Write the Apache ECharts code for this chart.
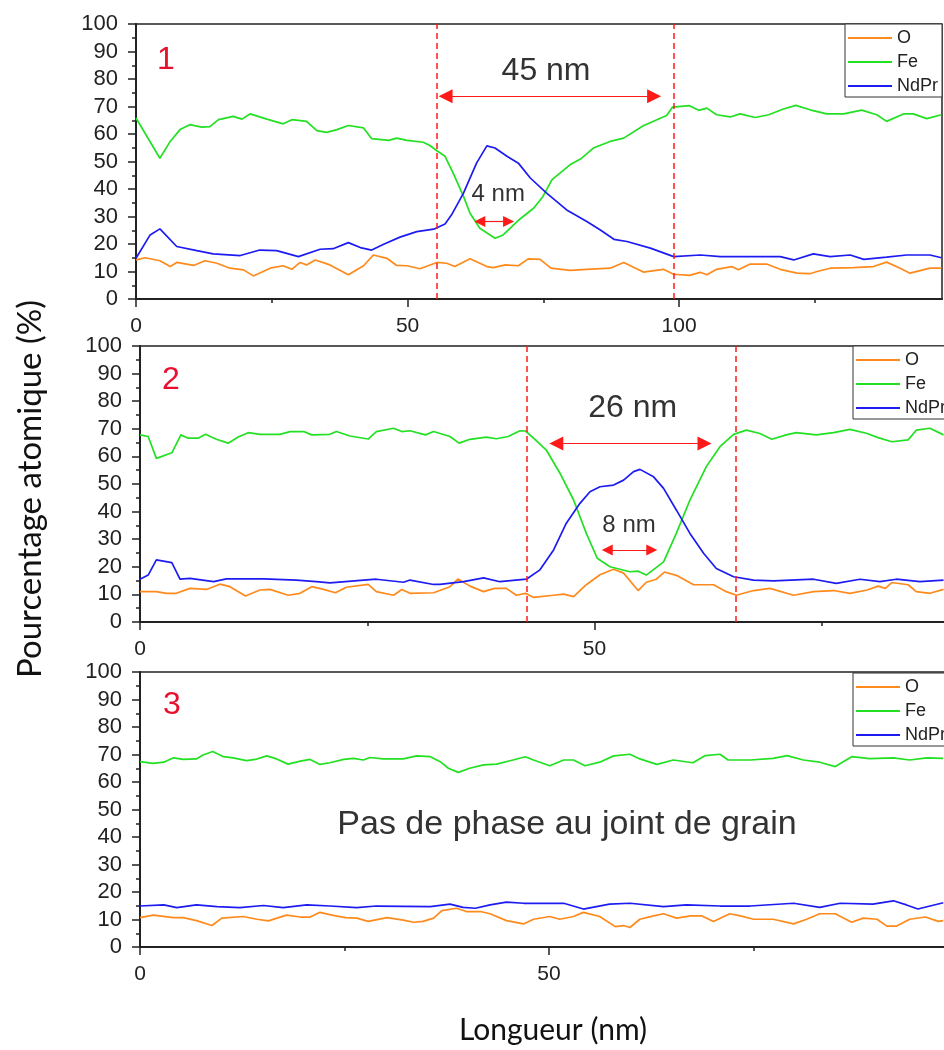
<!DOCTYPE html>
<html>
<head>
<meta charset="utf-8">
<script src="https://cdn.jsdelivr.net/npm/echarts@6/dist/echarts.min.js"></script>
<style>
html,body{margin:0;padding:0;background:#fff;}
#chart{width:944px;height:1050px;}
</style>
</head>
<body>
<div id="chart"></div>
<script>
// ---------- DATA ----------
const seriesNames = ['O', 'Fe', 'NdPr'];
const p1_xMajorTicks = [0, 50, 100];
const p1_xMinorTicks = [25, 75, 125];
const p23_xMajorTicks = [0, 50];
const p23_xMinorTicks = [25, 75];

// Panel 1
const p1_Fe_x = [0,4.4,6.3,8.1,9.9,12.1,13.6,15.2,17.9,19.5,21,24.1,27.1,28.7,31.4,33.3,35.1,37,39.1,41.9,43.4,46.5,48,49.9,52.9,54.1,55.4,56.9,58.4,60.3,61.5,63.3,66.1,67.6,70.7,73.2,74.9,76.6,79.9,82,84.2,87.3,89.8,93.4,97.7,98.8,101.9,103.6,105.1,106.9,109.4,111.2,114,116.5,119.2,121.5,124.1,127.2,130.3,133.6,136.4,138.2,141.3,143.1,145.6,148.3];
const p1_Fe_y = [65.8,51.2,57.3,61.6,63.4,62.5,62.7,65.2,66.4,65.4,67.3,65.4,63.7,65.2,64.6,61.2,60.6,61.6,63.1,62.2,58.3,57.7,58.5,57.7,57,55.8,53.9,51.9,45.8,37.3,31.2,25.7,22.1,23.3,29.1,33,37.2,43.4,48.8,51.1,54.9,57.3,58.5,63,66.7,69.8,70.3,68.6,69.4,67,66.2,67.3,66,67,69.1,70.4,68.8,67.3,67.3,68.7,67,64.6,67.3,67.3,65.6,67];
const p1_NdPr_x = [0,2.6,4.4,7.5,11.2,14.2,19.2,22.8,25.9,29.9,33.9,36.3,39.1,41.3,43.4,45.6,48.6,51.7,54.8,56.9,58.1,60.3,62.7,64.6,66.1,68.3,70.4,72.6,75.6,79.3,83,85.5,88,90.4,94.7,99,103.9,107.6,118.6,121.1,124.7,127.8,131.5,134,138.2,141.9,146.2,148.3];
const p1_NdPr_y = [14.8,23.3,25.5,19.1,17.6,16.4,15.8,17.8,17.6,15.4,18.1,18.3,20.5,18.7,17.8,19.9,22.5,24.5,25.4,27.3,30.6,38.5,49.4,55.7,54.9,51.9,49.4,44,38.5,32.4,28.2,25.1,21.7,20.9,18.5,15.4,16,15.4,15.4,14.2,16.4,15.4,16,14.4,15.2,16,16,15];
const p1_O_x = [0,1.7,4.4,6.3,7.5,10.6,12.7,14.9,17.3,19.8,21.6,24.7,27.1,28.7,30.2,31.4,33,35.7,39.1,41.9,43.7,46.2,48,49.9,52.3,55.4,57.2,58.7,61.5,64.6,65.8,68,70.4,72.2,74.4,76.4,79.9,83,87.3,89.8,93.4,97.1,99,101.9,103.9,105.1,106.9,109.7,110.9,113.1,116.1,118.6,121.7,124.1,125.4,127.8,132.1,135.8,138.2,140.7,142.5,146.2,148.3];
const p1_O_y = [14.2,15,13.9,11.8,13.3,12.2,13.9,13,11.2,10.6,8.4,11.2,12.1,10.8,13.3,12.4,14.2,12.4,8.8,12.1,16,14.8,12.2,12.1,11,13.3,13,11.8,14.6,11.8,11.4,12.4,12.1,14.6,14.4,11.2,10.4,10.8,11.2,13.3,9.8,10.8,9,8.6,9.7,8.8,10.8,11.8,10.6,12.7,12.7,10.8,9.4,9.2,10,11.2,11.4,11.8,13.4,11.2,9.4,11.2,11.2];
const p1_boundaries = [55.4, 99.1];
const p1_wideArrow = [57.0, 95.4, 73.7];   // x start, x end, y
const p1_narrowArrow = [63.3, 68.6, 28.2];
const p1_labels = [['45 nm', 75.5, 83.0], ['4 nm', 66.7, 37.9]];

// Panel 2
const p2_Fe_x = [0,0.9,1.8,3.5,4.5,5.3,6.4,7.2,8.4,9.7,10.8,11.9,13.2,15.4,16.5,18,18.9,20.9,21.6,23.1,25.1,26,27.9,28.8,29.7,31.4,32.3,34.1,35.1,36.3,38.1,39.2,40.5,41.8,42.4,43.3,44.7,46.2,47.7,49.1,50.3,51.7,53.9,54.8,55.7,57.6,59,60.5,62.3,63.8,65.3,66.7,68.2,69.5,71.1,72.2,74.4,76.3,78.1,80,81.2,82.7,84.5,85.4,86.9,88.4];
const p2_Fe_y = [67.8,67.2,59.3,61.3,67.8,66.6,66.6,68,66.2,64.8,67,68.6,68,68,69,69,67.8,68,69,67.4,66.3,69,70.2,69,69.3,67.8,69,67.2,64.8,66.2,67,66.4,67.2,69.3,69.2,66.6,62.3,53.9,44.2,32.1,23.1,20,18.2,18.4,17,21.8,32.1,44.2,56.3,63.5,68,69.5,68.3,66.2,67.8,68.6,67.8,68.6,69.8,68.3,66.8,65.3,66,69.5,70.2,67.8];
const p2_NdPr_x = [0,0.9,1.8,3.5,4.4,5.5,8.1,9.5,13.6,17.2,19.4,20.9,24.6,26,29,29.7,32.3,33,35.6,37.8,39.6,42.5,44,45.5,46.9,48.4,49.5,50.6,52.1,53.2,54.3,55,56.5,57.6,59,60.5,62,63.4,65.3,67.5,69.7,74.1,76.6,79.2,81.4,83.2,85.8,88.4];
const p2_NdPr_y = [15.5,17,22.5,21.5,15.5,15.8,14.6,15.6,15.6,15.2,14.6,14.2,15.2,15.5,14.4,15.2,13.6,13.6,14.6,16,14.6,15.5,18.9,26.1,35.8,43,47.2,49,49.6,51.4,54.5,55.3,52.6,48.4,40.6,32.1,24.9,19.4,16.4,15.2,14.9,15.5,14,15.5,14.6,15.5,14.6,15.2];
const p2_O_x = [0,1.8,2.9,4,5.5,7.3,8.8,9.9,11.6,13.2,14.3,16.3,17.6,18.9,20.2,21.5,22.7,25.1,26,27.9,28.8,29.7,32.3,34.1,35,36.3,37.8,39,40.3,41.4,42.4,43.3,45.5,46.6,47.7,49.1,50.6,52.1,53.2,54.8,55.7,56.8,57.7,59,60.9,63.1,64.5,65.6,67.5,69.3,71.9,74.1,76.3,78.1,80,81.2,82,82.7,84.5,85.4,86.9,88.4];
const p2_O_y = [11,11,10.4,10.4,12.2,11.8,13.7,12.8,9.4,11.6,11.8,9.7,10.4,12.8,11.8,10.6,12.6,13.6,11,9.7,11.8,10.4,10.6,12.8,15.6,13,11,12.2,12.2,9.7,10.4,8.9,9.7,10.1,9.2,13.5,17.1,19.1,17.7,11.4,14.4,15.5,18.1,16.9,13.5,13.5,11,9.7,11.4,12.2,9.7,11,11.4,10.4,11.6,13,12.2,14.3,13.5,11,10.4,11.8];
const p2_boundaries = [42.5, 65.5];
const p2_wideArrow = [45.8, 62.1, 64.7];
const p2_narrowArrow = [51.4, 56.3, 26.1];
const p2_labels = [['26 nm', 54.2, 77.5], ['8 nm', 53.8, 35.1]];

// Panel 3
const p3_Fe_x = [0,1.6,2.9,4.1,5.3,6.9,7.7,8.9,10.2,11.4,13,14.1,15.5,16.7,18.1,19.6,20.8,22,23.2,24.9,26.1,27.3,28.1,29.7,32.2,33.8,35.5,36.7,37.7,38.9,40.3,42,43.6,45.6,47.1,48.1,50.1,51.8,53,54.4,56.2,57.9,59.9,61.1,63.2,65.2,67.6,69.1,70.9,71.9,74.6,77.4,79.1,81.1,83.1,85,87,89.2,92.1,94.1,96.2,98.2];
const p3_Fe_y = [67.4,66.8,67.2,68.8,68.2,68.4,69.8,71.1,69.2,68.8,67.8,68.2,69.5,68.4,66.5,67.6,68.2,66.4,67,68.2,68.6,68,68.9,68.4,68.4,69.5,69.2,67.4,65,63.5,65,66.2,66.5,68,69.2,68,65.9,68,68,65.9,67.2,69.5,70.1,68.4,66.4,68,67,69.6,70.1,68,68,68.6,69.6,68,67.2,65.6,69.2,68.5,68.8,68,68.8,68.6];
const p3_NdPr_x = [0,2.9,4.5,6.9,9.4,12.2,15.1,17.5,20.4,23.2,26.5,28.9,35.5,37.9,39.5,41,42.8,44.8,46.9,51.8,54.2,57.4,59.9,64,66.8,70.9,74.6,79.9,83.1,85.6,89.6,92.1,93.7,95.1,98.2];
const p3_NdPr_y = [14.9,15.3,14.3,15.3,14.7,14.3,15.1,14.3,15.3,14.9,14.3,14.9,14.7,15.6,14.4,14.1,15.3,16.3,15.9,15.9,13.8,15.6,15.9,14.7,15.3,14.9,14.9,15.9,14.4,15.9,15.6,16.8,15.3,13.8,16.1];
const p3_O_x = [0,1.6,4.1,5.3,6.9,8.8,10,12.6,14.3,15.7,17.9,19.6,20.8,22,23.6,25.1,26.5,27.9,30.2,32.2,33.4,34.6,35.9,36.9,38.7,39.9,41.6,42.8,44.8,46.9,48.1,50.1,51.3,53,54.2,56.2,58.1,59.1,59.9,61.1,62.8,64,65.6,67.3,68.7,70.1,72.1,73.4,75,77.4,79.9,81.5,83.1,85,87,88.4,90.1,91.3,92.5,94.1,96,97.6,98.2];
const p3_O_y = [10.7,11.6,10.7,10.7,9.6,7.8,10.5,11.1,10.1,9.5,11.6,10.9,10.9,12.6,11.5,10.7,10.5,9.3,10.7,9.8,9,9.3,10.5,13.2,14.1,12.9,12.9,12.1,9.6,8.4,10.1,11.1,10.1,11.1,12.6,11.1,7.4,7.8,7.1,10.1,11.3,12.1,10.5,11.3,11.3,9.3,12.1,11.3,10.1,10.1,8.4,10.1,12.1,12.1,9,10.5,10.1,7.6,7.6,10.1,10.9,9.3,9.6];
const p3_labels = [['Pas de phase au joint de grain', 52.2, 44.5]];

const panelNumbers = ['1', '2', '3'];
const yTitle = 'Pourcentage atomique (%)';
const xTitle = 'Longueur (nm)';

// ---------- STYLE / LAYOUT ----------
const FONT = '"Liberation Sans", Arial, sans-serif';
const TITLE_FONT = 'Lato, "Liberation Sans", sans-serif';
const COLORS = { O: '#ff8a1c', Fe: '#22e022', NdPr: '#1c1cf2' };
const AXIS = '#222';
const RED = '#ff1a1a';

const panels = [
  { grid: { left: 136, top: 24, width: 806, height: 275 }, xMax: 148.4,
    majors: p1_xMajorTicks, minors: p1_xMinorTicks,
    O: [p1_O_x, p1_O_y], Fe: [p1_Fe_x, p1_Fe_y], NdPr: [p1_NdPr_x, p1_NdPr_y],
    bounds: p1_boundaries, arrows: [[p1_wideArrow, 14], [p1_narrowArrow, 11]], labels: p1_labels,
    labelSizes: [32, 24], legend: { left: 845, top: 24 }, num: { x: 166, y: 60 } },
  { grid: { left: 140, top: 346, width: 909, height: 276 }, xMax: 100,
    majors: p23_xMajorTicks, minors: p23_xMinorTicks,
    O: [p2_O_x, p2_O_y], Fe: [p2_Fe_x, p2_Fe_y], NdPr: [p2_NdPr_x, p2_NdPr_y],
    bounds: p2_boundaries, arrows: [[p2_wideArrow, 14], [p2_narrowArrow, 11]], labels: p2_labels,
    labelSizes: [32, 24], legend: { left: 853, top: 346 }, num: { x: 171, y: 380 } },
  { grid: { left: 140, top: 672, width: 818, height: 275 }, xMax: 100,
    majors: p23_xMajorTicks, minors: p23_xMinorTicks,
    O: [p3_O_x, p3_O_y], Fe: [p3_Fe_x, p3_Fe_y], NdPr: [p3_NdPr_x, p3_NdPr_y],
    bounds: [], arrows: [], labels: p3_labels,
    labelSizes: [34], legend: { left: 853, top: 673 }, num: { x: 172, y: 705 } }
];

function pairs(xs, ys) { return xs.map((x, i) => [x, ys[i]]); }

const option = {
  animation: false,
  backgroundColor: '#fff',
  grid: [], xAxis: [], yAxis: [], series: [], legend: [], graphic: []
};

panels.forEach((p, i) => {
  option.grid.push(Object.assign({ show: true, borderColor: AXIS, borderWidth: 1.5, backgroundColor: 'transparent',
    containLabel: false, outerBoundsMode: 'none' }, p.grid));
  option.xAxis.push({
    gridIndex: i, type: 'value', min: 0, max: p.xMax, position: 'bottom',
    axisLine: { show: true, onZero: false, lineStyle: { color: AXIS, width: 2 } },
    axisTick: { show: true, length: 8, customValues: p.majors, lineStyle: { color: AXIS, width: 1.5 } },
    axisLabel: { customValues: p.majors, fontSize: 21, color: '#222', fontFamily: FONT, margin: 17 },
    splitLine: { show: false }
  });
  option.xAxis.push({
    gridIndex: i, type: 'value', min: 0, max: p.xMax, position: 'bottom',
    axisLine: { show: false },
    axisTick: { show: true, length: 4, customValues: p.minors, lineStyle: { color: AXIS, width: 1.5 } },
    axisLabel: { show: false }, splitLine: { show: false }
  });
  option.yAxis.push({
    gridIndex: i, type: 'value', min: 0, max: 100, interval: 10,
    axisLine: { show: true, onZero: false, lineStyle: { color: AXIS, width: 2 } },
    axisTick: { show: true, length: 8, lineStyle: { color: AXIS, width: 1.5 } },
    minorTick: { show: true, splitNumber: 2, length: 4, lineStyle: { color: AXIS, width: 1.5 } },
    axisLabel: { fontSize: 22, color: '#222', fontFamily: FONT, margin: 18 },
    splitLine: { show: false }, minorSplitLine: { show: false }
  });
  const xIdx = i * 2;
  seriesNames.forEach((name) => {
    option.series.push({
      name: name, type: 'line', xAxisIndex: xIdx, yAxisIndex: i,
      data: pairs(p[name][0], p[name][1]),
      showSymbol: false, symbol: 'none', smooth: false,
      lineStyle: { color: COLORS[name], width: 1.7 },
      itemStyle: { color: COLORS[name] },
      z: 3
    });
  });
  option.series.push({
    type: 'line', xAxisIndex: xIdx, yAxisIndex: i, data: [], silent: true, z: 5,
    markLine: {
      silent: true, animation: false, symbol: 'none', label: { show: false },
      lineStyle: { color: RED, type: [6, 4], width: 1.5 },
      data: p.bounds.map(v => ({ xAxis: v }))
    }
  });
  p.arrows.forEach(([a, sz]) => {
    option.series.push({
      type: 'line', xAxisIndex: xIdx, yAxisIndex: i, data: [], silent: true, z: 6,
      markLine: {
        silent: true, animation: false, symbol: ['triangle', 'triangle'], symbolSize: sz,
        label: { show: false },
        lineStyle: { color: RED, type: 'solid', width: 1.2 },
        itemStyle: { color: RED },
        data: [[{ coord: [a[0], a[2]] }, { coord: [a[1], a[2]] }]]
      }
    });
  });
  option.series.push({
    type: 'line', xAxisIndex: xIdx, yAxisIndex: i, data: [], silent: true, z: 7,
    markPoint: {
      silent: true, animation: false, symbol: 'rect', symbolSize: 1,
      itemStyle: { color: 'rgba(0,0,0,0)' },
      data: p.labels.map((l, k) => ({
        coord: [l[1], l[2]], value: l[0],
        label: { show: true, position: 'inside', formatter: l[0], color: '#333',
                 fontSize: p.labelSizes[k], fontFamily: FONT }
      }))
    }
  });
  option.legend.push({
    left: p.legend.left, top: p.legend.top, orient: 'vertical',
    data: seriesNames, icon: 'rect', itemWidth: 44, itemHeight: 2, itemGap: 6,
    padding: [5, 4, 2, 3], borderColor: '#333', borderWidth: 1, backgroundColor: '#fff',
    textStyle: { fontSize: 18, color: '#222', fontFamily: FONT, lineHeight: 18 },
    selectedMode: false
  });
  option.graphic.push({
    type: 'text', x: p.num.x, y: p.num.y, z: 10,
    style: { text: panelNumbers[i], fill: '#e8112d', font: '32px ' + FONT, textAlign: 'center', textVerticalAlign: 'middle' }
  });
});

option.graphic.push({
  type: 'text', x: 30, y: 489, rotation: Math.PI / 2, z: 10,
  style: { text: yTitle, fill: '#111', font: '33px ' + TITLE_FONT, textAlign: 'center', textVerticalAlign: 'middle' }
});
option.graphic.push({
  type: 'text', x: 553, y: 1030, z: 10,
  style: { text: xTitle, fill: '#111', font: '30px ' + TITLE_FONT, textAlign: 'center', textVerticalAlign: 'middle' }
});

const chart = echarts.init(document.getElementById('chart'), null, { renderer: 'canvas' });
chart.setOption(option);
</script>
</body>
</html>
